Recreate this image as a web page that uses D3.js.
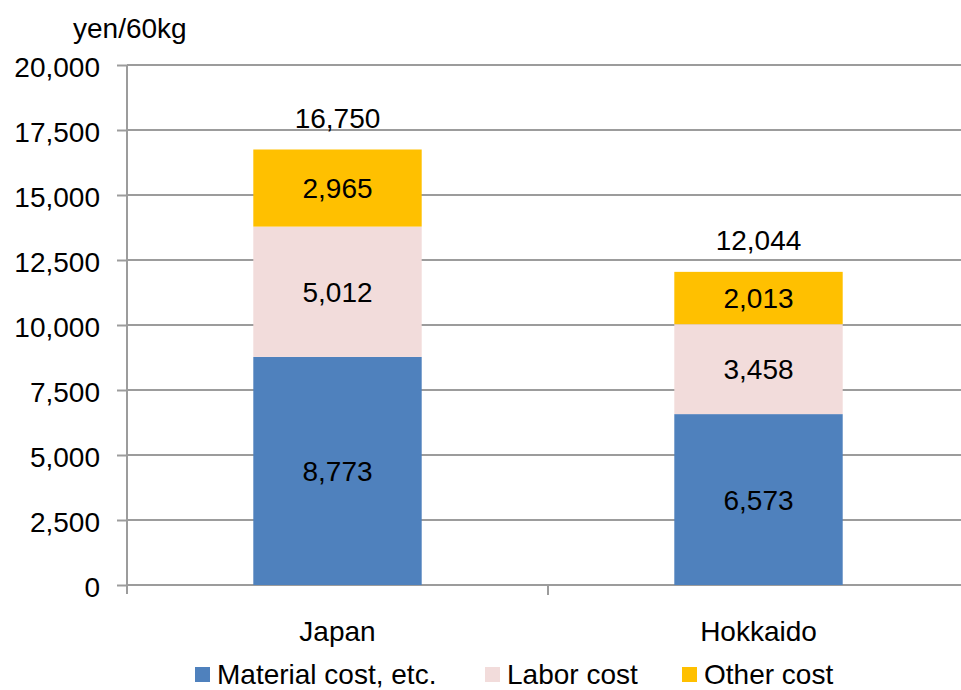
<!DOCTYPE html>
<html>
<head>
<meta charset="utf-8">
<script src="https://cdn.jsdelivr.net/npm/d3@7"></script>
<style>
  body { margin: 0; background: #fff; }
  svg text { font-family: "Liberation Sans", Arial, sans-serif; fill: #000; }
</style>
</head>
<body>
<svg id="chart" width="961" height="690"></svg>
<script>
// Production cost of rice, yen per 60kg
const regions = ["Japan", "Hokkaido"];
const seriesNames = ["Material cost, etc.", "Labor cost", "Other cost"];
const materialCost = [8773, 6573];
const laborCost = [5012, 3458];
const otherCost = [2965, 2013];
const totals = [16750, 12044];
const yTicks = [0, 2500, 5000, 7500, 10000, 12500, 15000, 17500, 20000];
const colors = ["#4F81BD", "#F2DCDB", "#FFC000"];

const svg = d3.select("#chart");
const fmt = d3.format(",");
const FS = 28;

const x0 = 127, x1 = 969, yTop = 65, yBottom = 585;
const gridColor = "#9c9c9c";

const x = d3.scaleBand().domain(regions).range([x0, x1]).paddingInner(0.6).paddingOuter(0.3);
const xc = d3.scaleBand().domain(regions).range([x0, x1]);
const y = d3.scaleLinear().domain([0, 20000]).range([yBottom, yTop]);

// horizontal gridlines
svg.append("g").selectAll("line").data(yTicks).join("line")
  .attr("x1", x0).attr("x2", 961)
  .attr("y1", d => y(d)).attr("y2", d => y(d))
  .attr("stroke", gridColor).attr("stroke-width", 2);

// stacked bars
const rows = regions.map((r, i) => ({ region: r, m: materialCost[i], l: laborCost[i], o: otherCost[i] }));
const stack = d3.stack().keys(["m", "l", "o"])(rows);

const layers = svg.append("g").selectAll("g").data(stack).join("g")
  .attr("fill", (d, i) => colors[i]);
layers.selectAll("rect").data(d => d).join("rect")
  .attr("x", d => x(d.data.region))
  .attr("width", x.bandwidth())
  .attr("y", d => y(d[1]))
  .attr("height", d => y(d[0]) - y(d[1]));

// segment value labels
layers.selectAll("text").data(d => d).join("text")
  .attr("x", d => x(d.data.region) + x.bandwidth() / 2)
  .attr("y", d => (y(d[0]) + y(d[1])) / 2)
  .attr("dy", "0.36em")
  .attr("text-anchor", "middle")
  .attr("font-size", FS)
  .text(d => fmt(d[1] - d[0]));

// totals above bars
svg.append("g").selectAll("text").data(regions).join("text")
  .attr("x", d => x(d) + x.bandwidth() / 2)
  .attr("y", (d, i) => y(totals[i]) - 32)
  .attr("dy", "0.36em")
  .attr("text-anchor", "middle")
  .attr("font-size", FS)
  .text((d, i) => fmt(totals[i]));

// y axis
const yAxis = svg.append("g").attr("transform", `translate(${x0},0)`)
  .call(d3.axisLeft(y).tickValues(yTicks).tickFormat(fmt).tickSizeOuter(0).tickSizeInner(10).tickPadding(17));
yAxis.select(".domain").attr("stroke", gridColor).attr("stroke-width", 2)
  .attr("d", `M0,${yTop}V${yBottom + 9}`);
yAxis.selectAll(".tick line").attr("stroke", gridColor).attr("stroke-width", 2);
yAxis.selectAll(".tick text").attr("font-size", FS).attr("font-family", "Liberation Sans, Arial, sans-serif")
  .attr("fill", "#000").attr("dy", "0.42em");

// x axis
const xAxis = svg.append("g").attr("transform", `translate(0,${yBottom})`)
  .call(d3.axisBottom(xc).tickSize(0).tickPadding(36));
xAxis.select(".domain").remove();
xAxis.selectAll(".tick text").attr("font-size", FS).attr("font-family", "Liberation Sans, Arial, sans-serif").attr("fill", "#000");
// category boundary tick
svg.append("g").selectAll("line").data([xc(regions[1])]).join("line")
  .attr("x1", d => d).attr("x2", d => d)
  .attr("y1", yBottom).attr("y2", yBottom + 10)
  .attr("stroke", gridColor).attr("stroke-width", 2);

// unit label
svg.append("text").attr("x", 73).attr("y", 38).attr("font-size", FS).text("yen/60kg");

// legend
const legendX = [195, 485, 682];
const legend = svg.append("g").selectAll("g").data(seriesNames).join("g")
  .attr("transform", (d, i) => `translate(${legendX[i]},674)`);
legend.append("rect").attr("x", 0).attr("y", -7).attr("width", 15).attr("height", 15)
  .attr("fill", (d, i) => colors[i]);
legend.append("text").attr("x", 22).attr("y", 10).attr("font-size", FS).text(d => d);
</script>
</body>
</html>
